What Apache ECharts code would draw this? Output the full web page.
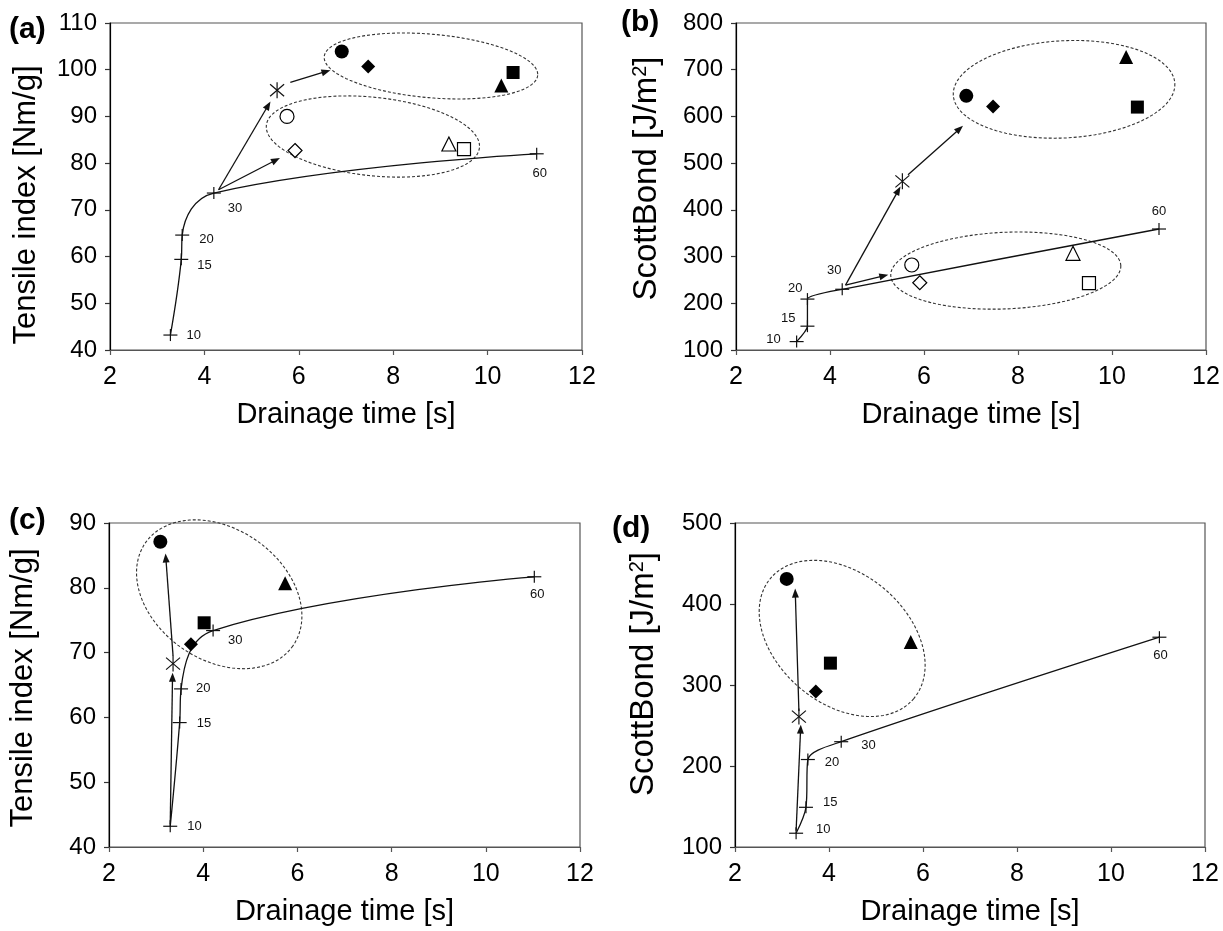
<!DOCTYPE html>
<html>
<head>
<meta charset="utf-8">
<title>Drainage time vs strength</title>
<script src="https://cdn.jsdelivr.net/npm/echarts@6/dist/echarts.min.js"></script>
<style>
  html, body { margin: 0; padding: 0; background: #fff; }
  #chart { width: 1223px; height: 931px; }
</style>
</head>
<body>
<div id="chart"></div>
<script>
// Refining dose labels (kWh/t) along the reference refining curve
const doseLabels = ['10', '15', '20', '30', '60'];

// (a) tensile index, long fibre fraction
const refTimeA = [3.28, 3.51, 3.53, 4.2, 11.04];
const refTensileA = [43.2, 59.4, 64.6, 73.6, 82.0];
const starA = [5.54, 95.6];
const solidA = [[6.91, 103.9], [7.47, 100.7], [10.29, 96.6], [10.54, 99.4]];
const hollowA = [[5.75, 90.0], [5.92, 82.7], [9.18, 84.1], [9.5, 83.0]];
const arrowsA = [[4.3, 74.3, 5.4, 93.2], [4.3, 74.3, 5.6, 81.1], [5.82, 97.3, 6.67, 99.9]];
const ellipsesA = [[8.8, 100.8, 2.27, 6.8, 5], [7.57, 85.7, 2.27, 8.4, 6]];

// (b) Scott Bond, long fibre fraction
const refTimeB = [3.29, 3.52, 3.52, 4.26, 11.0];
const refScottB = [118, 151, 209, 230, 359];
const starB = [5.54, 461];
const solidB = [[6.9, 644], [7.47, 621], [10.3, 727], [10.54, 620]];
const hollowB = [[5.74, 282], [5.91, 244], [9.17, 307], [9.51, 243]];
const arrowsB = [[4.33, 239, 5.5, 450], [5.66, 475, 6.83, 580], [4.33, 239, 5.24, 261]];
const ellipsesB = [[8.98, 658, 2.36, 104, -3], [7.74, 270, 2.45, 82, -2.5]];

// (c) tensile index, whole pulp
const refTimeC = [3.3, 3.5, 3.53, 4.21, 11.03];
const refTensileC = [43.2, 59.2, 64.4, 73.4, 81.7];
const starC = [3.36, 68.3];
const solidC = [[3.09, 87.1], [3.74, 71.3], [5.74, 80.7], [4.02, 74.6]];
const arrowsC = [[3.3, 43.5, 3.35, 66.9], [3.36, 69.5, 3.2, 85.3]];
const ellipsesC = [[4.34, 79, 1.91, 10.1, 35]];

// (d) Scott Bond, whole pulp
const refTimeD = [3.3, 3.51, 3.55, 4.26, 11.03];
const refScottD = [117, 149, 208, 230, 359];
const starD = [3.36, 261];
const solidD = [[3.1, 431], [3.72, 292], [5.74, 353], [4.03, 327]];
const arrowsD = [[3.3, 120, 3.4, 251], [3.36, 268, 3.28, 419]];
const ellipsesD = [[4.28, 357.5, 1.99, 80.4, 40]];

// Marker order used in the solid / hollow arrays
const SHAPES = ['circle', 'diamond', 'triangle', 'rect'];
const SHAPE_SIZES = [14, 14, 14, 13];

// Dose label placement per panel: [align, dx, dy] in pixels from the cross
const doseLayoutA = [['left', 16, 0], ['left', 16, 6], ['left', 17, 4], ['left', 14, 15], ['center', 3, 20]];
const doseLayoutB = [['right', -16, -2], ['right', -12, -8], ['right', -5, -11], ['center', -8, -19], ['center', 0, -18]];
const doseLayoutC = [['left', 17, 0], ['left', 17, 1], ['left', 15, 0], ['left', 15, 10], ['center', 3, 18]];
const doseLayoutD = [['left', 20, -4], ['left', 17, -5], ['left', 17, 3], ['left', 20, 4], ['center', 1, 18]];

const FONT = '"Liberation Sans", Arial, Helvetica, sans-serif';
const INK = '#111';

const chart = echarts.init(document.getElementById('chart'), null, { renderer: 'canvas' });

const grids = [
  { left: 110, top: 23, width: 472, height: 327 },
  { left: 736, top: 23, width: 470, height: 327 },
  { left: 109, top: 523, width: 471, height: 324 },
  { left: 735, top: 523, width: 470, height: 324 }
].map(g => Object.assign(g, { show: true, borderColor: '#555', borderWidth: 1.2, containLabel: false }));

function xAxisFor(gridIndex) {
  return {
    gridIndex, type: 'value', min: 2, max: 12, interval: 2,
    name: 'Drainage time [s]', nameLocation: 'middle', nameGap: 50,
    nameTextStyle: { fontSize: 29, color: '#000', fontFamily: FONT },
    axisLine: { show: true, onZero: false, lineStyle: { color: '#555', width: 1.2 } },
    axisTick: { show: true, inside: false, length: 5, lineStyle: { color: '#555', width: 1.2 } },
    axisLabel: { fontSize: 25, color: '#000', margin: 15, fontFamily: FONT },
    splitLine: { show: false }
  };
}

// namePad shifts the rotated title along the axis (right pad moves it down, left pad moves it up)
function yAxisFor(gridIndex, min, max, interval, name, nameGap, nameSize, namePad) {
  return {
    gridIndex, type: 'value', min, max, interval,
    name, nameLocation: 'middle', nameGap,
    nameTextStyle: {
      fontSize: nameSize, color: '#000', fontFamily: FONT, padding: namePad,
      rich: { sup: { fontSize: 20, color: '#000', fontFamily: FONT, verticalAlign: 'top', padding: [0, 0, 12, 0] } }
    },
    axisLine: { show: true, onZero: false, lineStyle: { color: '#000', width: 1.2 } },
    axisTick: { show: true, inside: false, length: 5, lineStyle: { color: '#333', width: 1.2 } },
    axisLabel: { fontSize: 24, color: '#000', margin: 13, fontFamily: FONT },
    splitLine: { show: false }
  };
}

// Cross markers with their dose labels
function crossSeries(idx, xs, ys, layout) {
  return {
    type: 'custom', xAxisIndex: idx, yAxisIndex: idx, z: 4,
    data: xs.map((x, i) => [x, ys[i]]),
    encode: { x: 0, y: 1 },
    renderItem(params, api) {
      const p = api.coord([api.value(0), api.value(1)]);
      const lay = layout[params.dataIndex];
      const st = { stroke: INK, lineWidth: 1.2 };
      return {
        type: 'group', children: [
          { type: 'line', shape: { x1: p[0] - 7, y1: p[1], x2: p[0] + 7, y2: p[1] }, style: st },
          { type: 'line', shape: { x1: p[0], y1: p[1] - 6, x2: p[0], y2: p[1] + 6 }, style: st },
          { type: 'text', x: p[0] + lay[1], y: p[1] + lay[2],
            style: { text: doseLabels[params.dataIndex], fill: INK, fontSize: 13, fontFamily: FONT,
                     align: lay[0], verticalAlign: 'middle' } }
        ]
      };
    }
  };
}

// Reference refining curve
function curveSeries(idx, xs, ys, smooth) {
  return {
    type: 'line', xAxisIndex: idx, yAxisIndex: idx, z: 3,
    data: xs.map((x, i) => [x, ys[i]]),
    smooth, showSymbol: false, symbol: 'none',
    lineStyle: { color: INK, width: 1.3 }, silent: true
  };
}

// Six-armed star marker
function starSeries(idx, pt) {
  return {
    type: 'custom', xAxisIndex: idx, yAxisIndex: idx, z: 5,
    data: [pt], encode: { x: 0, y: 1 },
    renderItem(params, api) {
      const p = api.coord([api.value(0), api.value(1)]);
      const st = { stroke: INK, lineWidth: 1.2 };
      return {
        type: 'group', children: [
          { type: 'line', shape: { x1: p[0], y1: p[1] - 8, x2: p[0], y2: p[1] + 8 }, style: st },
          { type: 'line', shape: { x1: p[0] - 7, y1: p[1] - 6, x2: p[0] + 7, y2: p[1] + 6 }, style: st },
          { type: 'line', shape: { x1: p[0] - 7, y1: p[1] + 6, x2: p[0] + 7, y2: p[1] - 6 }, style: st }
        ]
      };
    }
  };
}

function arrowSeries(idx, arrows) {
  return {
    type: 'custom', xAxisIndex: idx, yAxisIndex: idx, z: 4,
    data: arrows, encode: { x: [0, 2], y: [1, 3] },
    renderItem(params, api) {
      const a = api.coord([api.value(0), api.value(1)]);
      const b = api.coord([api.value(2), api.value(3)]);
      const dx = b[0] - a[0], dy = b[1] - a[1];
      const len = Math.sqrt(dx * dx + dy * dy) || 1;
      const ux = dx / len, uy = dy / len, nx = -uy, ny = ux;
      const h = 9, w = 3.5;
      const base = [b[0] - ux * h, b[1] - uy * h];
      return {
        type: 'group', children: [
          { type: 'line', shape: { x1: a[0], y1: a[1], x2: base[0] + ux * 2, y2: base[1] + uy * 2 },
            style: { stroke: INK, lineWidth: 1.3 } },
          { type: 'polygon', shape: { points: [b, [base[0] + nx * w, base[1] + ny * w], [base[0] - nx * w, base[1] - ny * w]] },
            style: { fill: INK } }
        ]
      };
    }
  };
}

// Dashed ellipses grouping the treated samples
function ellipseSeries(idx, ellipses) {
  return {
    type: 'custom', xAxisIndex: idx, yAxisIndex: idx, z: 2,
    data: ellipses, encode: { x: 0, y: 1 },
    renderItem(params, api) {
      const c = api.coord([api.value(0), api.value(1)]);
      const sz = api.size([api.value(2), api.value(3)]);
      const th = api.value(4) * Math.PI / 180;
      const pts = [];
      for (let i = 0; i <= 120; i++) {
        const t = i / 120 * Math.PI * 2;
        const ex = sz[0] * Math.cos(t), ey = sz[1] * Math.sin(t);
        pts.push([c[0] + ex * Math.cos(th) - ey * Math.sin(th), c[1] + ex * Math.sin(th) + ey * Math.cos(th)]);
      }
      return { type: 'polyline', shape: { points: pts },
               style: { fill: null, stroke: '#333', lineWidth: 1.1, lineDash: [3, 2] } };
    }
  };
}

function markerSeries(idx, points, hollow) {
  return {
    type: 'scatter', xAxisIndex: idx, yAxisIndex: idx, z: 6,
    data: points.map((p, i) => ({ value: p, symbol: SHAPES[i], symbolSize: SHAPE_SIZES[i] })),
    itemStyle: hollow
      ? { color: '#fff', borderColor: '#000', borderWidth: 1.2, opacity: 1 }
      : { color: '#000', opacity: 1 },
    emphasis: { disabled: true }
  };
}

const panelTitles = [
  { text: '(a)', left: 9, top: 15 },
  { text: '(b)', left: 621, top: 8 },
  { text: '(c)', left: 9, top: 506 },
  { text: '(d)', left: 612, top: 514 }
].map(t => Object.assign(t, { padding: 0, textStyle: { fontSize: 30, fontWeight: 'bold', color: '#000', fontFamily: FONT } }));

chart.setOption({
  animation: false,
  backgroundColor: '#fff',
  title: panelTitles,
  grid: grids,
  xAxis: [xAxisFor(0), xAxisFor(1), xAxisFor(2), xAxisFor(3)],
  yAxis: [
    yAxisFor(0, 40, 110, 10, 'Tensile index [Nm/g]', 68, 31, [0, 37, 0, 0]),
    yAxisFor(1, 100, 800, 100, 'ScottBond [J/m{sup|2}]', 73, 33, [0, 0, 0, 16]),
    yAxisFor(2, 40, 90, 10, 'Tensile index [Nm/g]', 70, 31, [0, 6, 0, 0]),
    yAxisFor(3, 100, 500, 100, 'ScottBond [J/m{sup|2}]', 75, 33, [0, 0, 0, 22])
  ],
  series: [
    ellipseSeries(0, ellipsesA), curveSeries(0, refTimeA, refTensileA, 0.4), crossSeries(0, refTimeA, refTensileA, doseLayoutA),
    arrowSeries(0, arrowsA), starSeries(0, starA), markerSeries(0, solidA, false), markerSeries(0, hollowA, true),

    ellipseSeries(1, ellipsesB), curveSeries(1, refTimeB, refScottB, 0.2), crossSeries(1, refTimeB, refScottB, doseLayoutB),
    arrowSeries(1, arrowsB), starSeries(1, starB), markerSeries(1, solidB, false), markerSeries(1, hollowB, true),

    ellipseSeries(2, ellipsesC), curveSeries(2, refTimeC, refTensileC, 0.4), crossSeries(2, refTimeC, refTensileC, doseLayoutC),
    arrowSeries(2, arrowsC), starSeries(2, starC), markerSeries(2, solidC, false),

    ellipseSeries(3, ellipsesD), curveSeries(3, refTimeD, refScottD, 0.3), crossSeries(3, refTimeD, refScottD, doseLayoutD),
    arrowSeries(3, arrowsD), starSeries(3, starD), markerSeries(3, solidD, false)
  ]
});
</script>
</body>
</html>
